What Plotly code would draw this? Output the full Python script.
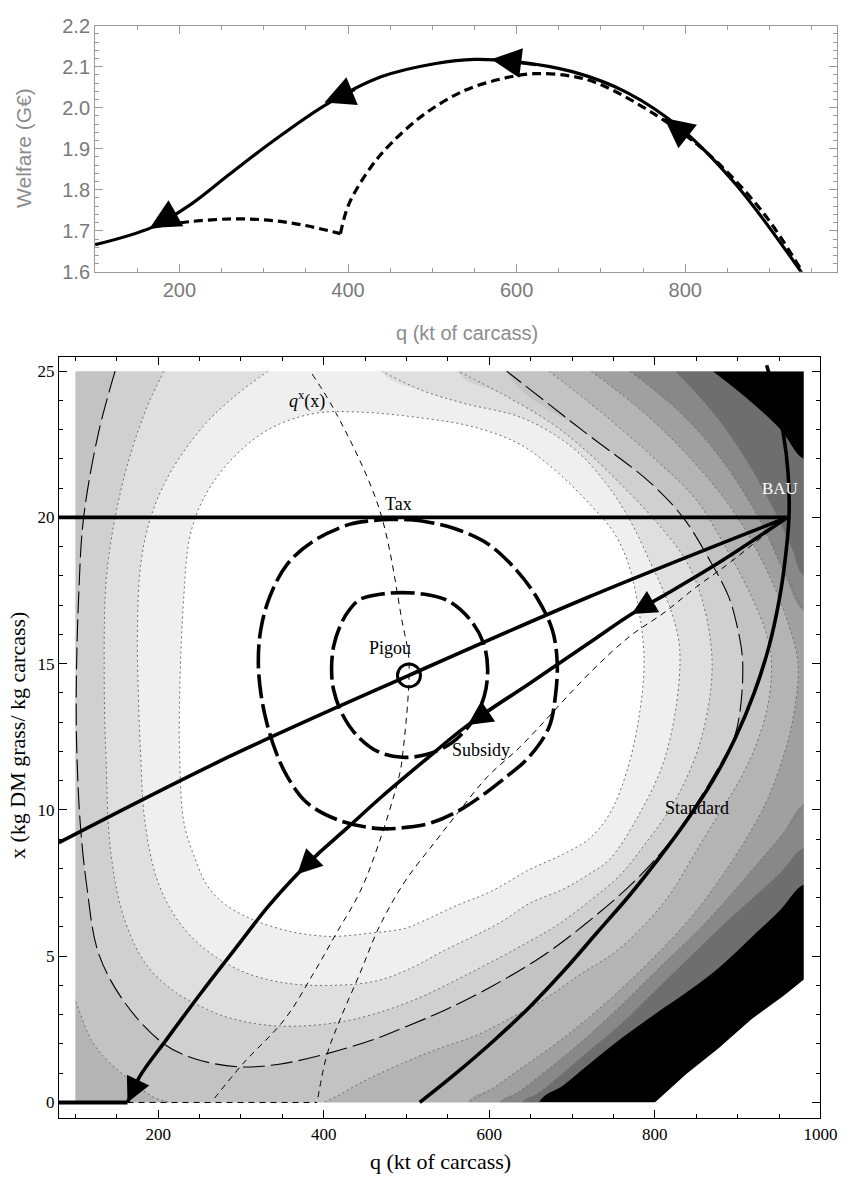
import plotly.graph_objects as go

FIG_W, FIG_H = 858, 1196

# ================= TOP PANEL DATA (welfare, G EUR) =================
top_q_solid = [100, 168, 214, 259, 310, 375, 440, 504, 550, 601, 666, 731, 795, 860, 938]
top_w_solid = [1.666, 1.709, 1.765, 1.837, 1.917, 2.009, 2.076, 2.108, 2.118, 2.112, 2.088, 2.037, 1.949, 1.813, 1.598]
top_q_dash_low = [168, 211, 265, 310, 349, 391]
top_w_dash_low = [1.709, 1.722, 1.729, 1.725, 1.713, 1.693]
top_q_dash_high = [391, 401, 427, 452, 491, 536, 581, 620, 665, 698, 763, 827, 892, 937]
top_w_dash_high = [1.693, 1.765, 1.855, 1.915, 1.985, 2.040, 2.070, 2.083, 2.077, 2.058, 1.985, 1.888, 1.745, 1.606]
top_arrow_tip_q = [570, 372, 165, 775]
top_arrow_tip_w = [2.118, 2.013, 1.707, 1.975]
top_arrow_tail_q = [625, 410, 195, 810]
top_arrow_tail_w = [2.104, 2.045, 1.742, 1.918]

# ================= BOTTOM PANEL DATA (q, x) =================
# filled contour boundaries, innermost (C1) to outermost (C8 = edge of black)
C1_q = [444, 388, 333, 286, 254, 238, 231, 226, 226, 231, 245, 262, 290, 345, 404, 460, 498, 520, 562, 601, 648, 690, 720, 745, 767, 782, 787, 779, 767, 750, 723, 684, 637, 580, 518, 444]
C1_x = [23.6, 23.55, 23.0, 21.9, 20.6, 19.3, 17.3, 14.0, 11.8, 9.6, 8.3, 7.3, 6.6, 5.95, 5.68, 5.8, 5.95, 6.2, 6.75, 7.2, 7.95, 8.5, 9.0, 9.85, 11.4, 13.4, 15.2, 17.1, 18.5, 19.5, 20.4, 21.5, 22.5, 23.1, 23.4, 23.6]
C2_q = [333, 295, 254, 214, 191, 179, 175, 176, 179, 184, 199, 222, 254, 300, 350, 404, 463, 506, 546, 586, 616, 648, 690, 720, 745, 782, 810, 826, 830, 822, 810, 794, 770, 740, 700, 640, 569, 518, 470]
C2_x = [25.0, 24.2, 23.1, 21.5, 20.0, 18.4, 16.2, 14.0, 11.8, 9.6, 7.6, 6.3, 5.3, 4.5, 4.1, 4.0, 4.15, 4.6, 5.2, 5.75, 6.2, 6.8, 7.3, 7.8, 8.3, 9.9, 11.6, 13.6, 15.5, 16.6, 17.5, 18.5, 19.9, 21.2, 22.4, 23.4, 23.9, 24.35, 25.0]
C3_q = [207, 190, 175, 160, 148, 140, 136, 135, 137, 143, 160, 187, 222, 254, 285, 341, 420, 500, 577, 648, 684, 735, 759, 790, 822, 850, 865, 869, 858, 838, 800, 760, 716, 676, 617, 562]
C3_x = [25.0, 24.0, 22.9, 21.5, 20.0, 18.6, 17.3, 14.0, 11.8, 8.5, 6.2, 4.66, 3.75, 3.25, 2.9, 2.62, 2.75, 3.4, 4.43, 5.5, 6.1, 7.2, 7.8, 8.9, 10.2, 11.9, 13.6, 15.2, 17.1, 18.5, 19.9, 21.1, 22.3, 23.2, 24.2, 25.0]
# long-dashed iso-welfare curve (also a band boundary)
LD_q = [148, 128, 110, 104, 101, 102, 106, 114, 128, 160, 207, 246, 297, 344, 403, 463, 500, 546, 605, 664, 716, 775, 818, 850, 880, 895, 903, 906, 900, 889, 865, 834, 794, 716, 621]
LD_x = [25.0, 22.9, 20.0, 17.3, 13.9, 11.8, 9.5, 7.35, 5.1, 3.4, 2.0, 1.48, 1.22, 1.3, 1.66, 2.18, 2.6, 3.15, 4.0, 5.0, 6.1, 7.55, 8.9, 10.2, 11.6, 12.4, 13.4, 15.1, 16.2, 17.3, 18.6, 20.0, 21.2, 22.9, 25.0]
C4_q = [672, 735, 800, 850, 885, 915, 935, 941, 936, 922, 902, 876, 848, 818, 785, 750, 711, 665, 620, 585, 540, 500, 450, 400, 330, 250, 214, 195, 167, 140, 120, 100, 85]
C4_x = [25.0, 23.6, 22.0, 20.6, 19.0, 17.4, 16.0, 15.0, 13.5, 12.2, 11.0, 9.8, 8.5, 7.1, 6.0, 5.1, 4.4, 3.5, 2.8, 2.3, 1.85, 1.4, 0.75, 0.0, -0.6, -0.5, 0.0, 0.17, 0.74, 1.4, 2.1, 3.5, 4.8]
C5_q = [723, 790, 850, 900, 940, 962, 973, 968, 955, 935, 910, 885, 865, 840, 800, 760, 720, 680, 640, 605, 574]
C5_x = [25.0, 23.5, 21.8, 20.0, 17.9, 16.3, 15.0, 13.3, 11.8, 10.3, 9.0, 7.9, 7.1, 6.2, 5.0, 3.9, 2.9, 2.0, 1.2, 0.5, 0.0]
C6_up_q = [770, 830, 880, 925, 955, 980]
C6_up_x = [25.0, 23.6, 22.0, 20.0, 18.2, 16.8]
C6_lo_q = [980, 955, 925, 895, 860, 820, 780, 740, 700, 665, 635, 613]
C6_lo_x = [10.2, 9.2, 8.2, 7.2, 6.1, 5.0, 3.9, 2.8, 1.8, 1.0, 0.35, 0.0]
C7_up_q = [825, 870, 910, 945, 965, 980]
C7_up_x = [25.0, 23.6, 22.0, 20.2, 19.0, 18.0]
C7_lo_q = [980, 950, 915, 880, 840, 800, 760, 720, 685, 658, 640]
C7_lo_x = [8.7, 7.8, 6.9, 6.0, 4.9, 3.8, 2.7, 1.75, 0.9, 0.3, 0.0]
C8_up_q = [870, 910, 952, 980]
C8_up_x = [25.0, 24.1, 23.0, 22.0]
C8_lo_q = [980, 952, 915, 877, 840, 799, 760, 720, 690, 660]
C8_lo_x = [7.45, 6.6, 5.6, 4.6, 3.8, 3.0, 2.2, 1.3, 0.6, 0.0]
band_colors = ["#ffffff", "#efefef", "#dfdfdf", "#d0d0d0", "#c3c3c3", "#b4b4b4", "#a0a0a0", "#888888", "#6e6e6e", "#000000"]
# edge of the computed domain (white beyond it, bottom-right)
cut_q = [800, 838, 877, 917, 956, 980]
cut_x = [0.0, 0.97, 1.85, 2.85, 3.66, 4.2]
dom_q = [100, 980]
dom_x = [0, 25]

# policy paths
tax_q = [80, 960]
tax_x = [20, 20]
pig_q = [80, 285, 503, 720, 960]
pig_x = [8.88, 11.81, 14.6, 17.28, 20.0]
sub_q = [960, 877, 815, 772, 720, 650, 574, 518, 470, 427, 395, 368, 333, 293, 252, 210, 178, 163]
sub_x = [20.0, 18.45, 17.4, 16.7, 15.7, 14.35, 12.9, 11.6, 10.45, 9.35, 8.55, 7.8, 6.7, 5.25, 3.75, 2.15, 0.9, 0.0]
zero_q = [80, 163]
zero_x = [0, 0]
zdash_q = [163, 392]
zdash_x = [0, 0]
std_q = [516, 560, 605, 650, 690, 730, 770, 805, 840, 870, 897, 920, 938, 951, 958, 962, 961, 955, 945, 935]
std_x = [0.0, 1.0, 2.1, 3.3, 4.5, 5.8, 7.1, 8.35, 9.7, 11.0, 12.45, 14.0, 15.6, 17.3, 18.7, 20.0, 21.5, 22.9, 24.2, 25.2]
qx_q = [386, 415, 467, 495, 503, 495, 491, 467, 444, 415, 388, 353, 302, 264]
qx_x = [24.9, 23.56, 20.3, 16.4, 15.07, 11.81, 11.14, 8.89, 7.21, 5.77, 4.43, 2.85, 1.31, 0.0]
bl_q = [960, 935, 889, 850, 811, 770, 723, 637, 598, 562, 534, 498, 467, 444, 420, 404, 392]
bl_x = [20.0, 19.46, 18.42, 17.62, 16.74, 15.94, 14.73, 12.15, 11.14, 9.9, 8.89, 7.55, 6.0, 4.43, 2.85, 1.64, 0.0]
outer_q = [480, 505, 530, 557, 598, 633, 657, 676, 682, 680, 672, 648, 621, 569, 530, 498, 467, 420, 380, 356, 342, 331, 324, 321, 324, 335, 356, 388, 432, 455, 480]
outer_x = [19.93, 19.92, 19.82, 19.63, 19.1, 18.19, 17.28, 16.17, 15.07, 13.93, 12.82, 11.81, 11.14, 10.07, 9.56, 9.4, 9.36, 9.63, 10.24, 11.14, 12.0, 13.0, 14.0, 15.07, 16.17, 17.3, 18.4, 19.2, 19.77, 19.88, 19.93]
inner_q = [495, 520, 550, 577, 593, 598, 594, 580, 555, 525, 495, 465, 440, 422, 412, 409.5, 412, 420, 430, 444, 470, 495]
inner_x = [17.43, 17.38, 17.15, 16.5, 15.7, 14.83, 13.9, 13.05, 12.3, 11.9, 11.8, 12.0, 12.55, 13.3, 14.1, 14.8, 15.6, 16.3, 16.8, 17.2, 17.38, 17.43]
pigou_q = [503]
pigou_x = [14.6]
sub_arrow_tip_q = [772, 574, 368, 163]
sub_arrow_tip_x = [16.7, 12.9, 7.8, 0.0]
sub_arrow_tail_q = [815, 610, 395, 178]
sub_arrow_tail_x = [17.4, 13.59, 8.55, 0.9]
label_text = ["Tax", "Pigou", "Subsidy", "Standard", "<i>q</i><sup>x</sup>(x)"]
label_q = [490, 480, 590, 851, 380]
label_x = [20.47, 15.55, 12.05, 10.05, 24.0]
bau_label = ("BAU", 951, 21.0)

# ================= FIGURE =================
SERIF = "Liberation Serif, Times New Roman, serif"
SANS = "Liberation Sans, Arial, sans-serif"
FAR_L, FAR_R, FAR_LO, FAR_HI = 0, 1012, -3, 30
THICK = 3.6

fig = go.Figure()
B = dict(xaxis="x2", yaxis="y2", hoverinfo="skip", showlegend=False)


def fill_poly(qs, xs, color):
    fig.add_trace(go.Scatter(x=qs, y=xs, mode="lines", fill="toself", fillcolor=color,
                             line=dict(width=0, shape="spline", smoothing=1.0), **B))


def line(qs, xs, width, dash="solid", color="black", shape="spline"):
    fig.add_trace(go.Scatter(x=qs, y=xs, mode="lines",
                             line=dict(width=width, dash=dash, color=color, shape=shape, smoothing=1.0), **B))


# black domain background
fig.add_trace(go.Scatter(x=[dom_q[0], dom_q[1], dom_q[1], dom_q[0]], y=[dom_x[0], dom_x[0], dom_x[1], dom_x[1]],
                         mode="lines", fill="toself", fillcolor=band_colors[9], line=dict(width=0), **B))

# two-branch contours (cross the right edge)
for up_q, up_x, lo_q, lo_x, col in [(C8_up_q, C8_up_x, C8_lo_q, C8_lo_x, band_colors[8]),
                                    (C7_up_q, C7_up_x, C7_lo_q, C7_lo_x, band_colors[7]),
                                    (C6_up_q, C6_up_x, C6_lo_q, C6_lo_x, band_colors[6])]:
    qs = up_q + [FAR_R, FAR_R] + lo_q + [lo_q[-1], FAR_L, FAR_L, up_q[0]]
    xs = up_x + [up_x[-1], lo_x[0]] + lo_x + [FAR_LO, FAR_LO, FAR_HI, FAR_HI]
    fill_poly(qs, xs, col)

fill_poly(C5_q + [C5_q[-1], FAR_L, FAR_L, C5_q[0]], C5_x + [FAR_LO, FAR_LO, FAR_HI, FAR_HI], band_colors[5])
fill_poly(C4_q + [FAR_L, FAR_L, C4_q[0]], C4_x + [8, FAR_HI, FAR_HI], band_colors[4])
fill_poly(LD_q + [LD_q[-1], LD_q[0]], LD_x + [FAR_HI, FAR_HI], band_colors[3])
fill_poly(C3_q + [C3_q[-1], C3_q[0]], C3_x + [FAR_HI, FAR_HI], band_colors[2])
fill_poly(C2_q + [C2_q[-1], C2_q[0]], C2_x + [FAR_HI, FAR_HI], band_colors[1])
fill_poly(C1_q, C1_x, band_colors[0])

# dotted contour lines
DOT = "2px,3px"
for qs, xs in [(C1_q, C1_x), (C2_q, C2_x), (C3_q, C3_x), (C4_q, C4_x), (C5_q, C5_x),
               (C6_up_q, C6_up_x), (C6_lo_q, C6_lo_x), (C7_up_q, C7_up_x), (C7_lo_q, C7_lo_x)]:
    line(qs, xs, 1, DOT, "#6e6e6e")

# white masks outside the computed domain
for qs, xs in [([70, 1010, 1010, 70], [25, 25, 27, 27]),
               ([70, 1010, 1010, 70], [0, 0, -2, -2]),
               ([70, 100, 100, 70], [-2, -2, 27, 27]),
               ([980, 1010, 1010, 980], [-2, -2, 27, 27]),
               (cut_q + [1010, 1010, cut_q[0]], cut_x + [cut_x[-1], -2, -2])]:
    fig.add_trace(go.Scatter(x=qs, y=xs, mode="lines", fill="toself", fillcolor="white",
                             line=dict(width=0), **B))

# thin curves
line(LD_q, LD_x, 1.1, "22px,6px")
line(qx_q, qx_x, 1, "6px,5px")
line(bl_q, bl_x, 1, "6px,5px")
line(zdash_q, zdash_x, 1, "6px,5px", shape="linear")
# thick dashed iso-welfare loops
line(outer_q, outer_x, THICK, "24px,6px")
line(inner_q, inner_x, THICK, "24px,6px")
# thick policy paths
line(tax_q, tax_x, THICK, shape="linear")
line(pig_q, pig_x, THICK)
line(sub_q, sub_x, THICK)
line(zero_q, zero_x, 4, shape="linear")
line(std_q, std_x, THICK)
fig.add_trace(go.Scatter(x=pigou_q, y=pigou_x, mode="markers",
                         marker=dict(symbol="circle-open", size=23, color="black", line=dict(width=3)), **B))

# ---------------- top panel traces ----------------
T = dict(xaxis="x", yaxis="y", hoverinfo="skip", showlegend=False)
fig.add_trace(go.Scatter(x=top_q_dash_low, y=top_w_dash_low, mode="lines",
                         line=dict(width=3.2, dash="9px,5px", color="black", shape="spline"), **T))
fig.add_trace(go.Scatter(x=top_q_dash_high, y=top_w_dash_high, mode="lines",
                         line=dict(width=3.2, dash="9px,5px", color="black", shape="spline"), **T))
fig.add_trace(go.Scatter(x=top_q_solid, y=top_w_solid, mode="lines",
                         line=dict(width=3.2, color="black", shape="spline"), **T))

ann = []
for tq, tw, aq, aw in zip(top_arrow_tip_q, top_arrow_tip_w, top_arrow_tail_q, top_arrow_tail_w):
    ann.append(dict(x=tq, y=tw, ax=aq, ay=aw, xref="x", yref="y", axref="x", ayref="y", text="",
                    showarrow=True, arrowhead=2, arrowsize=2.3, arrowwidth=2.6, arrowcolor="black", standoff=0))
for tq, tx, aq, ax in zip(sub_arrow_tip_q, sub_arrow_tip_x, sub_arrow_tail_q, sub_arrow_tail_x):
    ann.append(dict(x=tq, y=tx, ax=aq, ay=ax, xref="x2", yref="y2", axref="x2", ayref="y2", text="",
                    showarrow=True, arrowhead=2, arrowsize=1.9, arrowwidth=2.6, arrowcolor="black", standoff=0))
for t, q, x in zip(label_text, label_q, label_x):
    ann.append(dict(x=q, y=x, xref="x2", yref="y2", text=t, showarrow=False, xanchor="center", yanchor="middle",
                    font=dict(family=SERIF, size=18, color="black")))
ann.append(dict(x=bau_label[1], y=bau_label[2], xref="x2", yref="y2", text=bau_label[0], showarrow=False,
                xanchor="center", yanchor="middle", font=dict(family=SERIF, size=17, color="white")))

# axis titles
TITLE = dict(xref="paper", yref="paper", showarrow=False, xanchor="center", yanchor="middle")
ann.append(dict(x=24 / FIG_W, y=1 - 140 / FIG_H, text="Welfare (G€)", textangle=-90,
                font=dict(family=SANS, size=21, color="#8c8c8c"), **TITLE))
ann.append(dict(x=476 / FIG_W, y=1 - 328 / FIG_H, text="q (kt of carcass)",
                font=dict(family=SANS, size=20, color="#8c8c8c"), **TITLE))
ann.append(dict(x=18 / FIG_W, y=1 - 738 / FIG_H, text="x (kg DM grass/ kg carcass)", textangle=-90,
                font=dict(family=SERIF, size=22, color="black"), **TITLE))
ann.append(dict(x=449 / FIG_W, y=1 - 1172 / FIG_H, text="q (kt of carcass)",
                font=dict(family=SERIF, size=22, color="black"), **TITLE))

top_ax = dict(showgrid=False, zeroline=False, showline=True, linecolor="#9a9a9a", linewidth=1, mirror="allticks",
              ticks="inside", ticklen=8, tickcolor="#9a9a9a", tickfont=dict(family=SANS, size=20, color="#7a7a7a"))
bot_ax = dict(showgrid=False, zeroline=False, showline=True, linecolor="black", linewidth=1, mirror="allticks",
              ticks="inside", ticklen=8, tickcolor="black", tickfont=dict(family=SERIF, size=17, color="black"))

fig.update_layout(
    width=FIG_W, height=FIG_H, margin=dict(l=0, r=0, t=0, b=0),
    paper_bgcolor="white", plot_bgcolor="white", showlegend=False,
    annotations=ann,
    xaxis=dict(domain=[97 / FIG_W, 854 / FIG_W], range=[100, 980], anchor="y", tick0=0, dtick=200,
               minor=dict(dtick=50, ticks="inside", ticklen=4, tickcolor="#9a9a9a"), **top_ax),
    yaxis=dict(domain=[1 - 265.7 / FIG_H, 1 - 15 / FIG_H], range=[1.6, 2.2], anchor="x", tick0=1.6, dtick=0.1,
               tickformat=".1f", minor=dict(dtick=0.02, ticks="inside", ticklen=4, tickcolor="#9a9a9a"), **top_ax),
    xaxis2=dict(domain=[60 / FIG_W, 837 / FIG_W], range=[80, 1000], anchor="y2", tick0=0, dtick=200,
                minor=dict(dtick=50, ticks="inside", ticklen=4.5, tickcolor="black"), **bot_ax),
    yaxis2=dict(domain=[1 - 1128 / FIG_H, 1 - 352 / FIG_H], range=[-0.54, 25.5], anchor="x2", tick0=0, dtick=5,
                minor=dict(dtick=1, ticks="inside", ticklen=4.5, tickcolor="black"), **bot_ax),
)

fig.write_html("out.html", config={"displayModeBar": False},
               post_script="document.body.style.margin='0px';document.body.style.overflow='hidden';")
